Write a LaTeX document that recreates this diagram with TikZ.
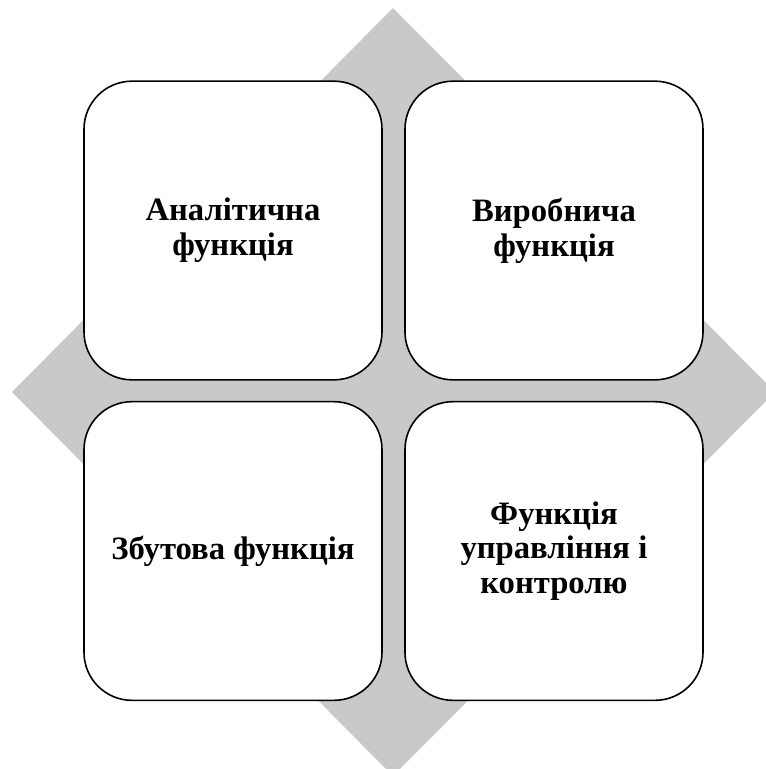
\documentclass[tikz,border=0pt]{standalone}
\usepackage{fontspec}
\setmainfont{Liberation Serif}
\definecolor{diamondgray}{RGB}{201,201,201}

\begin{document}
\begin{tikzpicture}[x=0.75pt,y=-0.75pt,
every node/.style={draw,fill=white,line width=1.2pt,rounded corners=36pt,
  minimum width=223.5pt,minimum height=224pt,align=center,
  font=\fontsize{24.5}{26}\selectfont\bfseries}]
\useasboundingbox (0,0) rectangle (766,769);
\clip (0,0) rectangle (766,769);
\fill[diamondgray] (393,8)--(775,392)--(393,776)--(12,392)--cycle;
\node (TL) at (233,230.5) {Аналітична\\функція};
\node (TR) at (554,230.5) {Виробнича\\функція};
\node (BL) at (233,551) {Збутова функція};
\node (BR) at (554,551) {Функція\\управління і\\контролю};
\end{tikzpicture}
\end{document}
